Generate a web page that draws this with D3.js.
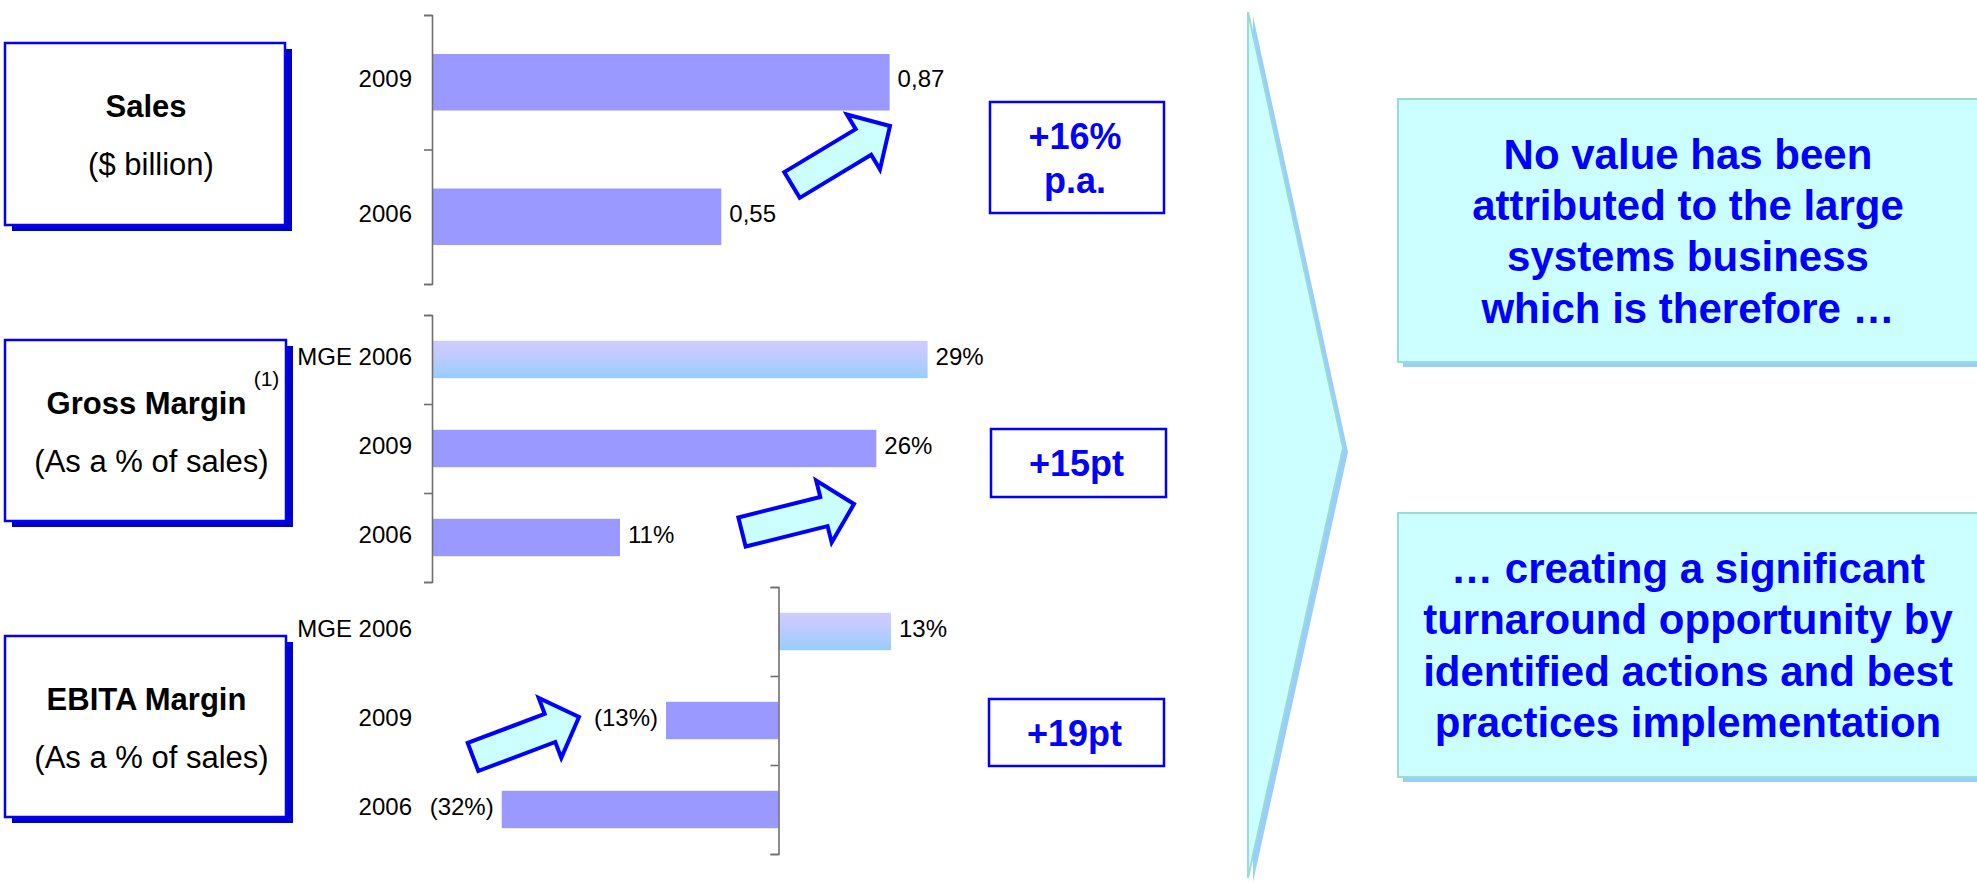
<!DOCTYPE html>
<html>
<head>
<meta charset="utf-8">
<script src="https://cdn.jsdelivr.net/npm/d3@7"></script>
<style>
  html, body { margin: 0; padding: 0; background: #fff; }
  svg { display: block; font-family: "Liberation Sans", Arial, sans-serif; }
</style>
</head>
<body>
<svg id="chart" width="1977" height="882"></svg>
<script>
/* ── Data ─────────────────────────────────────────── */
const salesCats   = ["2009", "2006"];
const salesValues = [0.87, 0.55];
const salesLabels = ["0,87", "0,55"];

const grossCats   = ["MGE 2006", "2009", "2006"];
const grossValues = [29, 26, 11];
const grossLabels = ["29%", "26%", "11%"];

const ebitaCats   = ["MGE 2006", "2009", "2006"];
const ebitaValues = [13, -13, -32];
const ebitaLabels = ["13%", "(13%)", "(32%)"];

const benchmarkCat = "MGE 2006";

const deltaTexts = [["+16%", "p.a."], ["+15pt"], ["+19pt"]];

const conclusionLines = [
    ["No value has been", "attributed to the large", "systems business", "which is therefore …"],
    ["… creating a significant", "turnaround opportunity by", "identified actions and best", "practices implementation"]
];

/* ── Layout ───────────────────────────────────────── */
const svg = d3.select("#chart");
const BLUE = "#0000ff";
const BAR  = "#9999ff";
const labelX = 412;

const panels = [
    {
        cats: salesCats, values: salesValues, labels: salesLabels,
        title: "Sales", sub: "($ billion)", note: null,
        box: [5, 43, 280, 182],
        axisX: 432, band: [15, 284],
        domain: [0, 1], span: 526,
        delta: deltaTexts[0], deltaBox: [990, 102, 174, 111],
        arrow: { from: [792, 185], to: [890, 126] }
    },
    {
        cats: grossCats, values: grossValues, labels: grossLabels,
        title: "Gross Margin", sub: "(As a % of sales)", note: "(1)",
        box: [5, 340, 281, 181],
        axisX: 432, band: [315, 582],
        domain: [0, 30], span: 30 * 17.09,
        delta: deltaTexts[1], deltaBox: [991, 429, 175, 68],
        arrow: { from: [742, 532], to: [854, 504] }
    },
    {
        cats: ebitaCats, values: ebitaValues, labels: ebitaLabels,
        title: "EBITA Margin", sub: "(As a % of sales)", note: null,
        box: [5, 636, 281, 181],
        axisX: 778.5, band: [587, 854],
        domain: [-35, 15], span: 50 * 8.65,
        delta: deltaTexts[2], deltaBox: [989, 699, 175, 67],
        arrow: { from: [473, 757], to: [579, 717] }
    }
];

/* ── Defs: benchmark gradient ─────────────────────── */
const defs = svg.append("defs");
const grad = defs.append("linearGradient")
    .attr("id", "mge-grad")
    .attr("x1", "0%").attr("y1", "0%")
    .attr("x2", "0%").attr("y2", "100%");
grad.append("stop").attr("offset", "0%").attr("stop-color", "#ccccff");
grad.append("stop").attr("offset", "25%").attr("stop-color", "#c8cbff");
grad.append("stop").attr("offset", "100%").attr("stop-color", "#99ccff");

/* ── Block arrow helper ───────────────────────────── */
function blockArrow(from, to, shaft = 30, headW = 64, headL = 31) {
    const dx = to[0] - from[0], dy = to[1] - from[1];
    const len = Math.hypot(dx, dy);
    const ux = dx / len, uy = dy / len;   // along
    const nx = -uy, ny = ux;              // normal
    const base = len - headL;
    const pt = (a, n) => [from[0] + ux * a + nx * n, from[1] + uy * a + ny * n];
    return [
        pt(0, -shaft / 2), pt(base, -shaft / 2), pt(base, -headW / 2),
        pt(len, 0),
        pt(base, headW / 2), pt(base, shaft / 2), pt(0, shaft / 2)
    ];
}

/* ── Panels ───────────────────────────────────────── */
panels.forEach((p) => {
    const g = svg.append("g");

    // title box with hard shadow
    const [bx, by, bw, bh] = p.box;
    g.append("rect")
        .attr("x", bx + 7).attr("y", by + 6)
        .attr("width", bw).attr("height", bh)
        .attr("fill", "#0000cc");
    g.append("rect")
        .attr("x", bx).attr("y", by)
        .attr("width", bw).attr("height", bh)
        .attr("fill", "#fff").attr("stroke", BLUE).attr("stroke-width", 2.5);
    const cx = bx + bw / 2 + 1, cy = by + bh / 2;
    g.append("text")
        .attr("x", cx).attr("y", cy - 17)
        .attr("text-anchor", "middle")
        .attr("font-size", 31).attr("font-weight", "bold")
        .text(p.title);
    g.append("text")
        .attr("x", cx + 5).attr("y", cy + 41)
        .attr("text-anchor", "middle")
        .attr("font-size", 31)
        .text(p.sub);
    if (p.note) {
        g.append("text")
            .attr("x", cx + 120).attr("y", cy - 45)
            .attr("text-anchor", "middle")
            .attr("font-size", 21)
            .text(p.note);
    }

    // scales
    const y = d3.scaleBand()
        .domain(p.cats)
        .range(p.band)
        .paddingInner(0.58)
        .paddingOuter(0.29);
    const zeroShift = p.axisX - (p.span * (0 - p.domain[0]) / (p.domain[1] - p.domain[0]));
    const x = d3.scaleLinear()
        .domain(p.domain)
        .range([zeroShift, zeroShift + p.span]);

    // bars
    g.selectAll("rect.bar")
        .data(p.values)
        .join("rect")
        .attr("class", "bar")
        .attr("x", (d) => Math.min(x(0), x(d)))
        .attr("y", (d, i) => y(p.cats[i]))
        .attr("width", (d) => Math.abs(x(d) - x(0)))
        .attr("height", y.bandwidth())
        .attr("fill", (d, i) => p.cats[i] === benchmarkCat ? "url(#mge-grad)" : BAR);

    // axis with ticks on band edges
    const edge = d3.scaleLinear()
        .domain([0, p.cats.length])
        .range(p.band);
    const axis = g.append("g")
        .attr("transform", `translate(${x(0)},0)`)
        .call(d3.axisLeft(edge)
            .tickValues(d3.range(p.cats.length + 1))
            .tickFormat("")
            .tickSizeInner(8)
            .tickSizeOuter(8));
    axis.selectAll("path, line")
        .attr("stroke", "#707070")
        .attr("stroke-width", 1.6);

    // category labels
    g.selectAll("text.cat")
        .data(p.cats)
        .join("text")
        .attr("class", "cat")
        .attr("x", labelX)
        .attr("y", (d) => y(d) + y.bandwidth() / 2 + 5)
        .attr("text-anchor", "end")
        .attr("font-size", 24)
        .text((d) => d);

    // value labels
    g.selectAll("text.val")
        .data(p.values)
        .join("text")
        .attr("class", "val")
        .attr("x", (d) => d >= 0 ? x(d) + 8 : x(d) - 8)
        .attr("y", (d, i) => y(p.cats[i]) + y.bandwidth() / 2 + 5)
        .attr("text-anchor", (d) => d >= 0 ? "start" : "end")
        .attr("font-size", 24)
        .text((d, i) => p.labels[i]);

    // growth arrow
    g.append("polygon")
        .attr("points", blockArrow(p.arrow.from, p.arrow.to).map((q) => q.join(",")).join(" "))
        .attr("fill", "#ccffff")
        .attr("stroke", BLUE)
        .attr("stroke-width", 4)
        .attr("stroke-linejoin", "miter");

    // delta box
    const [dx, dy, dw, dh] = p.deltaBox;
    g.append("rect")
        .attr("x", dx).attr("y", dy)
        .attr("width", dw).attr("height", dh)
        .attr("fill", "#fff").attr("stroke", BLUE).attr("stroke-width", 2.5);
    const dcx = dx + dw / 2 - 2, dcy = dy + dh / 2;
    const startY = p.delta.length === 1 ? dcy + 13 : dcy - 8.5;
    p.delta.forEach((line, i) => {
        g.append("text")
            .attr("x", dcx).attr("y", startY + i * 44)
            .attr("text-anchor", "middle")
            .attr("font-size", 36).attr("font-weight", "bold")
            .attr("fill", BLUE)
            .text(line);
    });
});

/* ── Chevron ──────────────────────────────────────── */
const chevron = [[1248, 12], [1343, 448], [1248, 878]];
svg.append("polygon")
    .attr("points", chevron.map((q) => [q[0] + 5, q[1] + 4].join(",")).join(" "))
    .attr("fill", "#99ccff");
svg.append("polygon")
    .attr("points", chevron.map((q) => q.join(",")).join(" "))
    .attr("fill", "#ccffff")
    .attr("stroke", "#99ddd2")
    .attr("stroke-width", 2);

/* ── Conclusion boxes ─────────────────────────────── */
const conclusionBoxes = [[1398, 99, 600, 263], [1398, 513, 600, 264]];
conclusionBoxes.forEach(([cx, cy, cw, ch], k) => {
    svg.append("rect")
        .attr("x", cx + 5).attr("y", cy + 5)
        .attr("width", cw).attr("height", ch)
        .attr("fill", "#99ccff");
    svg.append("rect")
        .attr("x", cx).attr("y", cy)
        .attr("width", cw).attr("height", ch)
        .attr("fill", "#ccffff")
        .attr("stroke", "#99ddd2")
        .attr("stroke-width", 2);
    const lines = conclusionLines[k];
    const mid = cy + ch / 2;
    lines.forEach((line, i) => {
        svg.append("text")
            .attr("x", 1688)
            .attr("y", mid - 62 + i * 51.4)
            .attr("text-anchor", "middle")
            .attr("font-size", 42).attr("font-weight", "bold")
            .attr("fill", BLUE)
            .text(line);
    });
});
</script>
</body>
</html>
